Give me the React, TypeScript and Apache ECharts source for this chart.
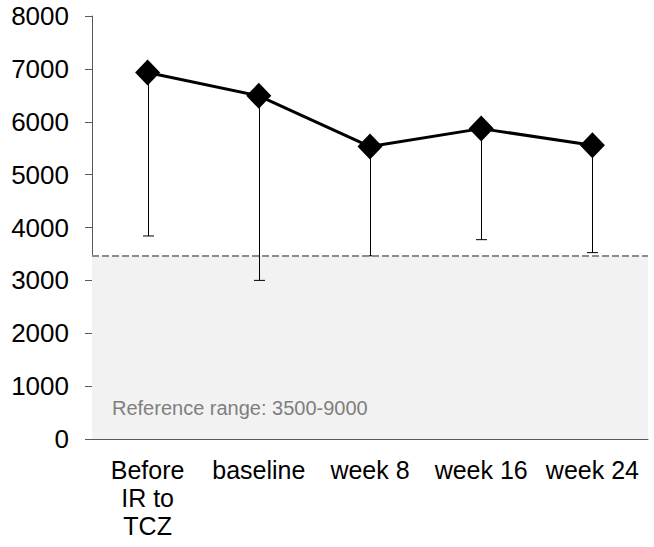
import React, { useEffect, useRef } from "react";
import * as echarts from "echarts";

const categories = ["Before\nIR to\nTCZ", "baseline", "week 8", "week 16", "week 24"];
const meanValues = [6930, 6490, 5530, 5870, 5555];
const lowerValues = [3840, 3000, 3465, 3770, 3525];
const refLow = 3465;
const yTicks = [0, 1000, 2000, 3000, 4000, 5000, 6000, 7000, 8000];

export default function App() {
  const ref = useRef<HTMLDivElement>(null);
  useEffect(() => {
    const chart = echarts.init(ref.current!, null, { renderer: "svg" });
    const font = "Arial, 'Liberation Sans', sans-serif";
    chart.setOption({
      animation: false,
      grid: { left: 92, right: 6, top: 16, bottom: 108 },
      xAxis: {
        type: "category",
        data: categories,
        boundaryGap: true,
        axisLine: { show: true, lineStyle: { color: "#595959", width: 1 } },
        axisTick: { show: false },
        axisLabel: { color: "#000", fontSize: 25, fontFamily: font, lineHeight: 28, margin: 17, interval: 0 },
      },
      yAxis: {
        type: "value",
        min: yTicks[0],
        max: yTicks[yTicks.length - 1],
        interval: 1000,
        splitLine: { show: false },
        axisLine: { show: true, lineStyle: { color: "#595959", width: 1 } },
        axisTick: { show: true, inside: false, length: 7, lineStyle: { color: "#595959" } },
        axisLabel: {
          color: "#000",
          fontSize: 26,
          fontFamily: font,
          margin: 23,
          formatter: (v: number) => String(v),
        },
      },
      series: [
        {
          type: "custom",
          z: 2,
          data: meanValues.map((v, i) => [i, v, lowerValues[i]]),
          renderItem: (params: any, api: any) => {
            const top = api.coord([api.value(0), api.value(1)]);
            const bot = api.coord([api.value(0), api.value(2)]);
            const x = Math.round(top[0]) + 0.5;
            const style = { stroke: "#000", lineWidth: 1 };
            return {
              type: "group",
              children: [
                { type: "line", shape: { x1: x, y1: top[1], x2: x, y2: bot[1] }, style },
                { type: "line", shape: { x1: x - 5.5, y1: bot[1], x2: x + 5.5, y2: bot[1] }, style },
              ],
            };
          },
        },
        {
          type: "line",
          z: 3,
          data: meanValues,
          symbol: "diamond",
          symbolSize: [25, 26],
          itemStyle: { color: "#000" },
          lineStyle: { color: "#000", width: 3 },
          markArea: {
            silent: true,
            itemStyle: { color: "#f2f2f2" },
            data: [[{ yAxis: 0 }, { yAxis: refLow }]],
          },
          markLine: {
            silent: true,
            symbol: "none",
            label: { show: false },
            lineStyle: { color: "#8c8c8c", type: [7, 3], width: 2 },
            data: [{ yAxis: refLow }],
          },
        },
      ],
      graphic: [
        {
          type: "text",
          x: 112,
          y: 398,
          z: 100,
          style: {
            text: "Reference range: 3500-9000",
            fill: "#7f7f7f",
            fontSize: 20,
            fontFamily: font,
          },
        },
      ],
    });
    return () => chart.dispose();
  }, []);
  return <div ref={ref} style={{ width: 654, height: 547, position: "absolute", left: 0, top: 0 }} />;
}
